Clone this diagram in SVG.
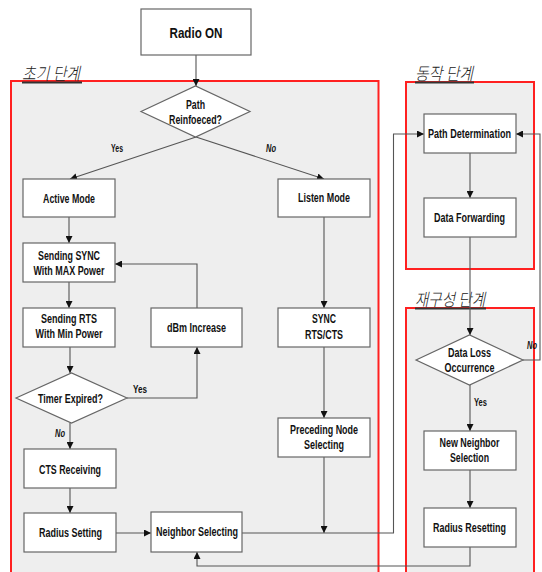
<svg xmlns="http://www.w3.org/2000/svg" width="542" height="572" viewBox="0 0 542 572">
  <defs>
    <marker id="arr" viewBox="0 0 8 8" refX="8" refY="4" markerWidth="7" markerHeight="7" markerUnits="userSpaceOnUse" orient="auto">
      <path d="M0,0 L8,4 L0,8 Z" fill="#111"/>
    </marker>
    <style>
      .stage { fill: #eeeeee; stroke: #ff2020; stroke-width: 2; }
      .stage-title { font-family: "Noto Sans CJK KR", "Liberation Sans", sans-serif; font-size: 17.5px; font-style: italic; font-weight: 300; fill: #222; }
      .uline { stroke: #333; stroke-width: 2; }
      .box { fill: #ffffff; stroke: #666; stroke-width: 1.2; }
      .t { font-family: "Liberation Sans", Arial, sans-serif; font-weight: bold; font-size: 13px; fill: #111; text-anchor: middle; }
      .big { font-size: 15.5px; }
      .lbl { font-family: "Liberation Sans", Arial, sans-serif; font-weight: bold; font-size: 10.5px; fill: #111; }
      .it { font-style: italic; }
      .conn { fill: none; stroke: #555; stroke-width: 1.1; }
    </style>
  </defs>

  <rect width="542" height="572" fill="#ffffff"/>

  <!-- stage frames -->
  <g id="stage-init">
    <rect class="stage" x="11" y="81" width="367.5" height="500"/>
    <text class="stage-title" x="22" y="80" textLength="58" lengthAdjust="spacingAndGlyphs">초기 단계</text>
    <line class="uline" x1="22" y1="82.5" x2="82" y2="82.5"/>
  </g>
  <g id="stage-run">
    <rect class="stage" x="406" y="82" width="128" height="187"/>
    <text class="stage-title" x="415" y="80" textLength="58" lengthAdjust="spacingAndGlyphs">동작 단계</text>
    <line class="uline" x1="415" y1="82.5" x2="474" y2="82.5"/>
  </g>
  <g id="stage-reconf">
    <rect class="stage" x="406" y="308" width="128" height="280"/>
    <text class="stage-title" x="415" y="306" textLength="70" lengthAdjust="spacingAndGlyphs">재구성 단계</text>
    <line class="uline" x1="415" y1="308.5" x2="486" y2="308.5"/>
  </g>

  <!-- connectors -->
  <g id="connectors">
    <path class="conn" d="M196,55 V86" marker-end="url(#arr)"/>
    <path class="conn" d="M196,137 L70,179" marker-end="url(#arr)"/>
    <path class="conn" d="M196,137 L324,179" marker-end="url(#arr)"/>
    <path class="conn" d="M69,217 V243" marker-end="url(#arr)"/>
    <path class="conn" d="M69,282 V308" marker-end="url(#arr)"/>
    <path class="conn" d="M70,347 V373" marker-end="url(#arr)"/>
    <path class="conn" d="M127,398 H197 V347" marker-end="url(#arr)"/>
    <path class="conn" d="M197,308 V264 H115" marker-end="url(#arr)"/>
    <path class="conn" d="M70,423 V449" marker-end="url(#arr)"/>
    <path class="conn" d="M70,488 V513" marker-end="url(#arr)"/>
    <path class="conn" d="M116,533 H151" marker-end="url(#arr)"/>
    <path class="conn" d="M324,217 V308" marker-end="url(#arr)"/>
    <path class="conn" d="M324,347 V418" marker-end="url(#arr)"/>
    <path class="conn" d="M324,457 V533" marker-end="url(#arr)"/>
    <path class="conn" d="M242,533 H393.5 V134 H424" marker-end="url(#arr)"/>
    <path class="conn" d="M470,153 V198" marker-end="url(#arr)"/>
    <path class="conn" d="M470,237 V335" marker-end="url(#arr)"/>
    <path class="conn" d="M523,360 H540 V134 H516" marker-end="url(#arr)"/>
    <path class="conn" d="M470,385 V431" marker-end="url(#arr)"/>
    <path class="conn" d="M470,470 V508" marker-end="url(#arr)"/>
    <path class="conn" d="M470,547 V566 H197 V552" marker-end="url(#arr)"/>
    <text class="lbl" x="111" y="152" textLength="12" lengthAdjust="spacingAndGlyphs">Yes</text>
    <text class="lbl it" x="266" y="152" textLength="10" lengthAdjust="spacingAndGlyphs">No</text>
    <text class="lbl" x="133" y="393" textLength="14" lengthAdjust="spacingAndGlyphs">Yes</text>
    <text class="lbl it" x="55" y="437" textLength="10" lengthAdjust="spacingAndGlyphs">No</text>
    <text class="lbl" x="474" y="406" textLength="13" lengthAdjust="spacingAndGlyphs">Yes</text>
    <text class="lbl it" x="527" y="349" textLength="10" lengthAdjust="spacingAndGlyphs">No</text>
  </g>

  <!-- nodes -->
  <g id="radio-on">
    <rect class="box" x="141" y="9" width="110" height="46"/>
    <text class="t big" x="196" y="38" textLength="53" lengthAdjust="spacingAndGlyphs">Radio ON</text>
  </g>
  <g id="path-reinforced">
    <polygon class="box" points="141,111.5 195.5,86 250,111.5 195.5,137"/>
    <text class="t" x="195.5" y="108.5" textLength="19" lengthAdjust="spacingAndGlyphs">Path</text>
    <text class="t" x="195.5" y="123.5" textLength="53" lengthAdjust="spacingAndGlyphs">Reinfoeced?</text>
  </g>
  <g id="active-mode">
    <rect class="box" x="23" y="179" width="92" height="38"/>
    <text class="t" x="69" y="202.5" textLength="52" lengthAdjust="spacingAndGlyphs">Active Mode</text>
  </g>
  <g id="sending-sync">
    <rect class="box" x="23" y="243" width="92" height="39"/>
    <text class="t" x="69" y="260" textLength="62" lengthAdjust="spacingAndGlyphs">Sending SYNC</text>
    <text class="t" x="69" y="275" textLength="71" lengthAdjust="spacingAndGlyphs">With MAX Power</text>
  </g>
  <g id="sending-rts">
    <rect class="box" x="23" y="308" width="92" height="39"/>
    <text class="t" x="69" y="323" textLength="56" lengthAdjust="spacingAndGlyphs">Sending RTS</text>
    <text class="t" x="69" y="338" textLength="67" lengthAdjust="spacingAndGlyphs">With Min Power</text>
  </g>
  <g id="dbm-increase">
    <rect class="box" x="151" y="308" width="91" height="39"/>
    <text class="t" x="196.5" y="332" textLength="59" lengthAdjust="spacingAndGlyphs">dBm Increase</text>
  </g>
  <g id="timer-expired">
    <polygon class="box" points="16,398 71.5,373 127,398 71.5,423"/>
    <text class="t" x="70.5" y="402.5" textLength="65" lengthAdjust="spacingAndGlyphs">Timer Expired?</text>
  </g>
  <g id="cts-receiving">
    <rect class="box" x="24" y="449" width="92" height="39"/>
    <text class="t" x="70" y="474" textLength="62" lengthAdjust="spacingAndGlyphs">CTS Receiving</text>
  </g>
  <g id="radius-setting">
    <rect class="box" x="24" y="513" width="92" height="39"/>
    <text class="t" x="70.5" y="536.5" textLength="63" lengthAdjust="spacingAndGlyphs">Radius Setting</text>
  </g>
  <g id="neighbor-selecting">
    <rect class="box" x="151" y="512" width="91" height="40"/>
    <text class="t" x="197" y="535.5" textLength="82" lengthAdjust="spacingAndGlyphs">Neighbor Selecting</text>
  </g>
  <g id="listen-mode">
    <rect class="box" x="278" y="179" width="92" height="38"/>
    <text class="t" x="324" y="202" textLength="52" lengthAdjust="spacingAndGlyphs">Listen Mode</text>
  </g>
  <g id="sync-rts-cts">
    <rect class="box" x="278" y="308" width="92" height="39"/>
    <text class="t" x="324" y="323" textLength="24" lengthAdjust="spacingAndGlyphs">SYNC</text>
    <text class="t" x="324" y="339" textLength="38" lengthAdjust="spacingAndGlyphs">RTS/CTS</text>
  </g>
  <g id="preceding-node">
    <rect class="box" x="278" y="418" width="92" height="39"/>
    <text class="t" x="324" y="434" textLength="68" lengthAdjust="spacingAndGlyphs">Preceding Node</text>
    <text class="t" x="324" y="449" textLength="40" lengthAdjust="spacingAndGlyphs">Selecting</text>
  </g>
  <g id="path-determination">
    <rect class="box" x="424" y="114" width="92" height="39"/>
    <text class="t" x="469.5" y="137.5" textLength="83" lengthAdjust="spacingAndGlyphs">Path Determination</text>
  </g>
  <g id="data-forwarding">
    <rect class="box" x="424" y="198" width="92" height="39"/>
    <text class="t" x="469.5" y="221.5" textLength="71" lengthAdjust="spacingAndGlyphs">Data Forwarding</text>
  </g>
  <g id="data-loss">
    <polygon class="box" points="416,360 469.5,335 523,360 469.5,385"/>
    <text class="t" x="469.5" y="356.5" textLength="43" lengthAdjust="spacingAndGlyphs">Data Loss</text>
    <text class="t" x="469.5" y="371.5" textLength="50" lengthAdjust="spacingAndGlyphs">Occurrence</text>
  </g>
  <g id="new-neighbor">
    <rect class="box" x="424" y="431" width="92" height="39"/>
    <text class="t" x="469.5" y="446.5" textLength="60" lengthAdjust="spacingAndGlyphs">New Neighbor</text>
    <text class="t" x="469.5" y="461.5" textLength="39" lengthAdjust="spacingAndGlyphs">Selection</text>
  </g>
  <g id="radius-resetting">
    <rect class="box" x="424" y="508" width="92" height="39"/>
    <text class="t" x="469.5" y="531.5" textLength="73" lengthAdjust="spacingAndGlyphs">Radius Resetting</text>
  </g>
</svg>
